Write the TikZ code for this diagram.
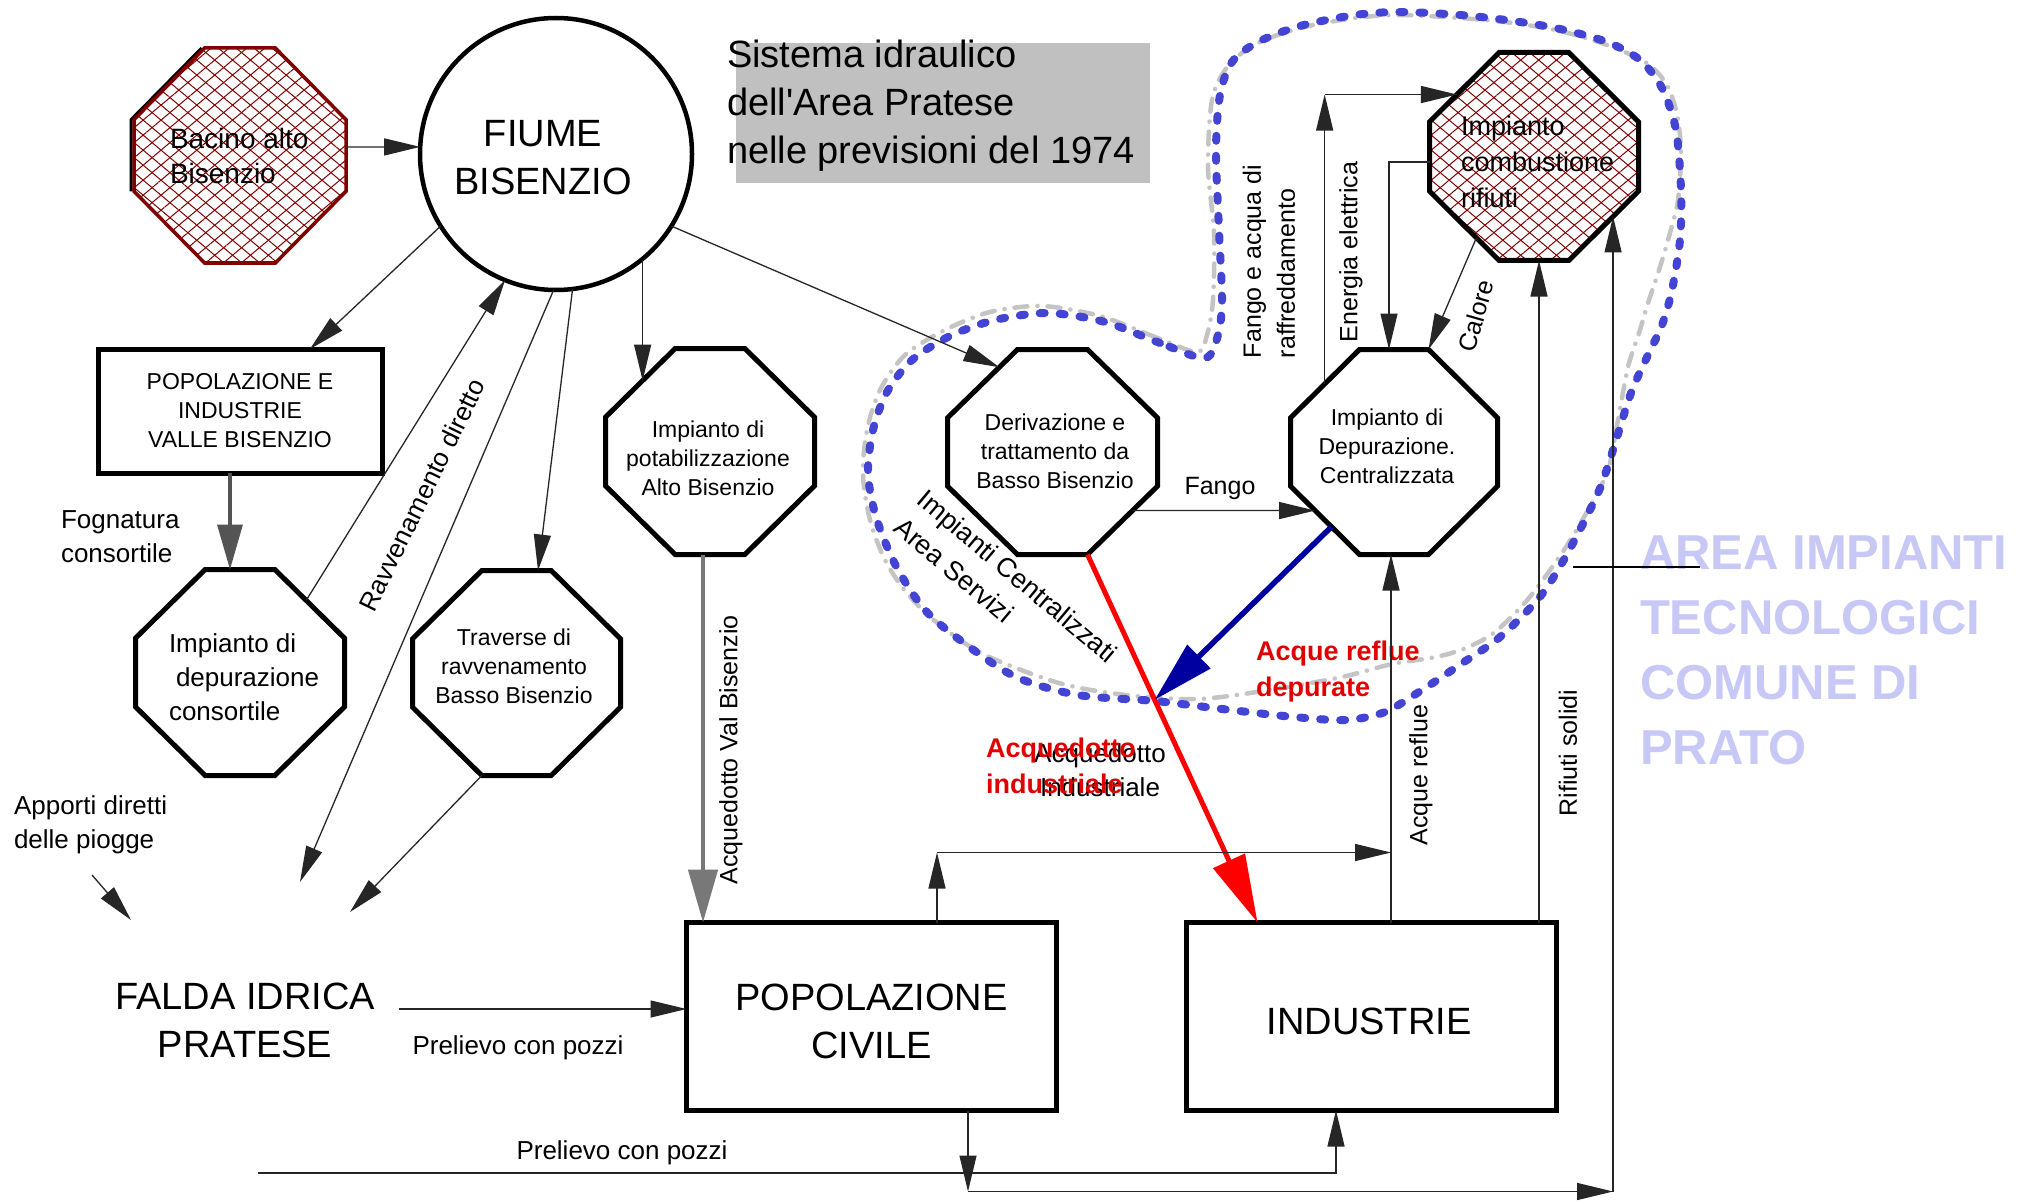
\documentclass[tikz,border=0pt]{standalone}
\usepackage{fontspec}
\setmainfont{Liberation Sans}
\usetikzlibrary{arrows.meta,calc,patterns.meta,backgrounds}
\definecolor{darkred}{HTML}{800000}
\definecolor{blobblue}{HTML}{4444D4}
\definecolor{blobgray}{HTML}{C4C4C4}
\definecolor{navyb}{HTML}{0000A0}
\definecolor{labred}{HTML}{E00000}
\definecolor{arealav}{HTML}{C8C8F6}
\definecolor{titlegray}{HTML}{C0C0C0}
\newcommand{\octverts}[1]{%
 \coordinate (#1-A) at ($(#1.north west)!1/3!(#1.north east)$);
 \coordinate (#1-B) at ($(#1.north west)!2/3!(#1.north east)$);
 \coordinate (#1-C) at ($(#1.north east)!1/3!(#1.south east)$);
 \coordinate (#1-D) at ($(#1.north east)!2/3!(#1.south east)$);
 \coordinate (#1-E) at ($(#1.south east)!1/3!(#1.south west)$);
 \coordinate (#1-F) at ($(#1.south east)!2/3!(#1.south west)$);
 \coordinate (#1-G) at ($(#1.south west)!1/3!(#1.north west)$);
 \coordinate (#1-H) at ($(#1.south west)!2/3!(#1.north west)$);}
\newcommand{\octpath}[1]{(#1-A) -- (#1-B) -- (#1-C) -- (#1-D) -- (#1-E) -- (#1-F) -- (#1-G) -- (#1-H) -- cycle}
\tikzset{
 octn/.style 2 args={rectangle, minimum width=#1, minimum height=#2},
 boxn/.style={draw, line width=5pt, rectangle},
 octline/.style={draw, line width=5pt, line join=miter},
 f23/.style={font=\fontsize{23pt}{29pt}\selectfont},
 f25/.style={font=\fontsize{25pt}{34pt}\selectfont},
 f26/.style={font=\fontsize{26pt}{34pt}\selectfont},
 f27/.style={font=\fontsize{27pt}{36pt}\selectfont},
 f28/.style={font=\fontsize{28pt}{35pt}\selectfont},
 f38/.style={font=\fontsize{38pt}{48pt}\selectfont},
 fb27/.style={font=\fontsize{27pt}{36pt}\selectfont\bfseries},
 fb49/.style={font=\fontsize{49pt}{65pt}\selectfont\bfseries},
 arr/.style={draw=black!85, line width=1.3pt, -{Triangle[length=36pt,width=17pt]}},
 garrA/.style={draw=black!67, line width=3.5pt, -{Triangle[length=45pt,width=25pt]}},
 garrB/.style={draw=black!53, line width=4.5pt, -{Triangle[length=53pt,width=29pt]}},
 rarr/.style={draw=red, line width=5pt, -{Triangle[length=68pt,width=34pt]}},
 barr/.style={draw=navyb, line width=5.5pt, -{Triangle[length=62pt,width=32pt]}},
 hatchA/.style={pattern={Lines[angle=40,distance=11.5pt,line width=1pt]}, pattern color=darkred},
 hatchB/.style={pattern={Lines[angle=-40,distance=11.5pt,line width=1pt]}, pattern color=darkred},
}
\begin{document}
\begin{tikzpicture}[x=1pt,y=-1pt, every node/.style={inner sep=0pt,outer sep=0pt}]
\useasboundingbox (0,0) rectangle (2019,1201);

% ---------- shape nodes ----------
\node[octn={212pt}{215pt}] (bacino) at (240,155.5) {};
\node[circle, draw, line width=4.5pt, minimum size=272pt] (fiume) at (556,154) {};
\node[boxn, minimum width=284pt, minimum height=124pt] (popvalle) at (240,411) {};
\node[octn={209pt}{206pt}] (depcons) at (240,672.5) {};
\node[octn={208pt}{205pt}] (traverse) at (516.5,673) {};
\node[octn={209pt}{206pt}] (potab) at (710,451.5) {};
\node[octn={210pt}{205pt}] (deriv) at (1052.5,452) {};
\node[octn={207pt}{205pt}] (depcent) at (1394,452) {};
\node[octn={209pt}{208pt}] (comb) at (1534,156.5) {};
\node[boxn, minimum width=370pt, minimum height=188pt] (popciv) at (871.5,1016.5) {};
\node[boxn, minimum width=370pt, minimum height=188pt] (industrie) at (1371.5,1016.5) {};

% ---------- texts of the shapes ----------
\node[f28, anchor=west, align=left] (bacinoT) at (170,156) {Bacino alto\\Bisenzio};
\node[f38, align=center] (fiumeT) at (543,158) {FIUME\\BISENZIO};
\node[f23, align=center] (popvalleT) at (240,411) {POPOLAZIONE E\\INDUSTRIE\\VALLE BISENZIO};
\node[f26, anchor=west, align=left] (depconsT) at (169,677.5) {Impianto di\\\makebox[7pt]{}depurazione\\consortile};
\node[f23, align=center] (traverseT) at (514,666) {Traverse di\\ravvenamento\\Basso Bisenzio};
\node[f23, align=center] (potabT) at (708,458) {Impianto di\\potabilizzazione\\Alto Bisenzio};
\node[f23, align=center] (derivT) at (1055,451) {Derivazione e\\trattamento da\\Basso Bisenzio};
\node[f23, align=center] (depcentT) at (1387,446) {Impianto di\\Depurazione.\\Centralizzata};
\node[f27, anchor=west, align=left] (combT) at (1461,161.5) {Impianto\\combustione\\rifiuti};
\node[f38, align=center] (popcivT) at (871.5,1021.5) {POPOLAZIONE\\CIVILE};
\node[f38] (industrieT) at (1369,1021.5) {INDUSTRIE};

% ---------- free texts ----------
\node[f38, anchor=west, align=left] (title) at (727,106) {Sistema idraulico\\dell\textquotesingle Area Pratese\\nelle previsioni del 1974};
\node[f26, anchor=west, align=left] (fogn) at (61,537) {Fognatura\\consortile};
\node[f38, align=center] (falda) at (245,1020) {FALDA IDRICA\\PRATESE};
\node[f26, anchor=west, align=left] (apporti) at (14,825) {Apporti diretti\\delle piogge};
\node[f26, rotate=64] (ravvlab) at (422,495) {Ravvenamento diretto};
\node[f25, rotate=90] (acqvblab) at (731,750) {Acquedotto Val Bisenzio};
\node[f25, rotate=90, anchor=west, align=left] (fangoacqlab) at (1269,358) {Fango e acqua di\\raffreddamento};
\node[f25, rotate=90] (energialab) at (1351,252) {Energia elettrica};
\node[f25, rotate=74] (calorelab) at (1476,316) {Calore};
\node[f25] (fangolab) at (1220,488) {Fango};
\node[f25, rotate=90] (acqreflab) at (1421,775) {Acque reflue};
\node[f25, rotate=90] (rifiutilab) at (1568,753) {Rifiuti solidi};
\node[f26] (prel1) at (518,1048) {Prelievo con pozzi};
\node[f26] (prel2) at (622,1153) {Prelievo con pozzi};
\node[f27, rotate=-40, anchor=north west, align=left] (implab) at (928,488) {Impianti Centralizzati\\Area Servizi};
\node[f26, align=center] (acqindblack) at (1100,770) {Acquedotto\\Industriale};
\node[fb27, text=labred, anchor=west, align=left] (acqindred) at (986,766) {Acquedotto\\industriale};
\node[fb27, text=labred, anchor=west, align=left] (depuratelab) at (1256,672) {Acque reflue\\depurate};
\node[fb49, text=arealav, anchor=west, align=left] (area) at (1640,650) {AREA IMPIANTI\\TECNOLOGICI\\COMUNE DI\\PRATO};

% ---------- octagon vertices ----------
\octverts{bacino}\octverts{depcons}\octverts{traverse}\octverts{potab}
\octverts{deriv}\octverts{depcent}\octverts{comb}

% free ends
\coordinate (faldaIn1) at (300,882);
\coordinate (faldaIn2) at (350,912);
\coordinate (faldaIn3) at (131,920);
\coordinate (apportiOut) at (92,875);
\coordinate (faldaOut) at (399,1009);
\coordinate (faldaOut2) at (258,1173);
\coordinate (areaL) at (1573,567);
\coordinate (areaR) at (1700,567);

% ---------- background ----------
\begin{scope}[on background layer]
\fill[white] (0,0) rectangle (2019,1201);
\fill[titlegray] (736,43) rectangle (1150,183);
\draw[blobgray, line width=4.5pt, line cap=round, dash pattern=on 13pt off 10pt on 0.1pt off 10pt]
 plot[smooth cycle, tension=0.5] coordinates {(1197,352) (1155,337) (1100,316) (1042,306) (990,312) (945,330) (905,355) (880,390) (867,430) (863,475) (870,520) (885,560) (906,592) (935,621) (983,654) (1059,683) (1126,695) (1198,699) (1270,690) (1342,677) (1392,664) (1436,657) (1466,648) (1495,632) (1529,598) (1564,550) (1588,510) (1608,470) (1618,420) (1628,367) (1639,333) (1649,300) (1660,267) (1670,233) (1678,200) (1681,150) (1676,110) (1665,82) (1645,62) (1607,45) (1560,31) (1513,23) (1460,18) (1400,15) (1355,18) (1300,28) (1256,44) (1228,66) (1212,100) (1208,167) (1214,233) (1213,300) (1207,335)};
\draw[blobblue, line width=8pt, line cap=round, dash pattern=on 5pt off 15pt]
 plot[smooth cycle, tension=0.5] coordinates {(1205,358) (1160,343) (1105,322) (1048,313) (995,320) (950,336) (912,360) (887,392) (873,430) (868,473) (876,517) (896,566) (925,610) (964,643) (1016,677) (1078,695) (1155,701) (1222,709) (1294,717) (1346,720) (1385,712) (1422,690) (1461,664) (1500,637) (1539,598) (1566,556) (1598,493) (1613,450) (1631,393) (1648,355) (1662,325) (1672,290) (1680,240) (1681,190) (1676,130) (1662,88) (1640,60) (1607,42) (1560,29) (1513,21) (1460,15) (1400,12) (1355,15) (1300,26) (1258,42) (1232,62) (1220,95) (1216,150) (1219,230) (1222,300) (1218,335)};
\path[hatchA] \octpath{bacino};
\path[hatchB] \octpath{bacino};
\path[hatchA] \octpath{comb};
\path[hatchB] \octpath{comb};
\end{scope}

% ---------- octagon outlines ----------
\draw[black, line width=3pt] ($(bacino-G)+(-3,0)$) -- ($(bacino-H)+(-3,0)$) -- ($(bacino-A)+(-3,0)$);
\draw[darkred, line width=3.5pt, line join=miter] \octpath{bacino};
\foreach \n in {depcons,traverse,potab,deriv,depcent,comb} \draw[octline] \octpath{\n};

% ---------- connectors ----------
\draw[arr] ($(bacino.east)+(0,-8.5)$) -- (fiume.177);
\draw[arr] (fiume.212) -- ($(popvalle.north)+(70,0)$);
\draw[garrA] ($(popvalle.south)+(-10,0)$) -- ($(depcons.north)+(-10,0)$);
\draw[arr] ($(depcons-B)!0.45!(depcons-C)$) -- (fiume.248);
\draw[arr] (fiume.269) -- (faldaIn1);
\draw[arr] (fiume.277) -- ($(traverse.north)+(21.5,0)$);
\draw[arr] (traverse-F) -- (faldaIn2);
\draw[arr] (apportiOut) -- (faldaIn3);
\draw[arr] (faldaOut) -- (faldaOut -| popciv.west);
\coordinate (potabIn) at ($(potab-H)!0.533!(potab-A)$);
\draw[arr] (potabIn |- fiume.309) -- (potabIn);
\coordinate (pvb) at ($(potab.south)+(-7,0)$);
\draw[garrB] (pvb) -- (pvb |- popciv.north);
\draw[arr] (fiume.328) -- ($(deriv-H)!0.74!(deriv-A)$);
\draw[arr] ($(deriv-D)!0.357!(deriv-E)$) -- ($(depcent-G)!0.357!(depcent-F)$);
\coordinate (redEnd) at ($(industrie.north west)+(71,0)$);
\draw[rarr] (deriv-E) -- (redEnd);
\draw[barr] ($(depcent-G)!0.594!(depcent-F)$) -- ($(deriv-E)!0.395!(redEnd)$);
\coordinate (arX) at ($(depcent.south)+(-3,0)$);
\draw[arr] (arX |- industrie.north) -- (arX);
\coordinate (pcUp) at ($(popciv.north)+(65.5,0)$);
\coordinate (pcCorner) at ($(pcUp)+(0,-70)$);
\draw[arr] (pcUp) -- (pcCorner);
\draw[arr] (pcCorner) -- (pcCorner -| arX);
\coordinate (rsX) at ($(comb.south)+(5,0)$);
\draw[arr] (rsX |- industrie.north) -- (rsX);
\coordinate (pcDown) at ($(popciv.south)+(96.5,0)$);
\coordinate (botCorner) at ($(pcDown)+(0,81)$);
\draw[arr] (pcDown) -- (botCorner);
\coordinate (combIn2) at ($(comb-D)!0.365!(comb-E)$);
\coordinate (rightCorner) at (combIn2 |- botCorner);
\draw[arr] (botCorner) -- (rightCorner);
\draw[arr] (rightCorner) -- (combIn2);
\coordinate (indIn) at ($(industrie.south)+(-35.5,0)$);
\draw[arr] (faldaOut2) -| (indIn);
\draw[arr] ($(comb.west)+(0,5.5)$) -| ($(depcent.north)+(-5,0)$);
\coordinate (fcS) at ($(depcent-H)!0.495!(depcent-A)$);
\coordinate (fcE) at ($(comb-H)!0.394!(comb-A)$);
\draw[arr] (fcS) -- (fcS |- fcE);
\draw[arr] (fcS |- fcE) -- (fcE);
\draw[arr] ($(comb-G)!0.673!(comb-F)$) -- (depcent-B);
\draw[line width=1.3pt] (areaL) -- (areaR);
\end{tikzpicture}
\end{document}
